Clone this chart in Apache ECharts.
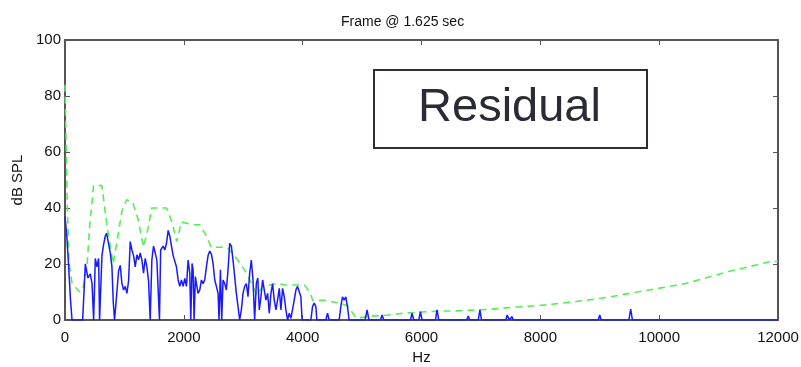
<!DOCTYPE html>
<html>
<head>
<meta charset="utf-8">
<script src="https://cdn.jsdelivr.net/npm/echarts@6/dist/echarts.min.js"></script>
<style>
html,body{margin:0;padding:0;background:#fff;}
#chart{width:801px;height:367px;}
</style>
</head>
<body>
<div id="chart"></div>
<script>
// ---- data ----
const chartTitle = 'Frame @ 1.625 sec';
const xName = 'Hz';
const yName = 'dB SPL';
const boxLabel = 'Residual';
const xTicks = [0, 2000, 4000, 6000, 8000, 10000, 12000];
const yTicks = [0, 20, 40, 60, 80, 100];

// residual spectrum (blue, solid)
const blueFreq = [0,30,62,90,118,297,342,386,426,455,482,510,538,566,582,622,650,678,700,735,762,790,812,834,858,902,930,958,986,1014,1042,1070,1098,1126,1154,1182,1210,1238,1266,1294,1322,1350,1378,1406,1434,1462,1490,1518,1546,1574,1590,1610,1652,1680,1708,1736,1764,1792,1820,1848,1876,1904,1932,1960,1988,2016,2044,2072,2100,2117,2139,2156,2173,2195,2212,2240,2268,2296,2324,2352,2380,2408,2436,2464,2492,2520,2548,2576,2593,2616,2638,2660,2688,2716,2744,2772,2800,2828,2856,2884,2912,2940,2968,2996,3024,3052,3080,3108,3136,3164,3192,3220,3245,3270,3298,3326,3354,3382,3410,3438,3466,3494,3522,3550,3578,3606,3634,3662,3690,3718,3746,3774,3802,3830,3858,3886,3914,3942,3970,3990,4138,4166,4194,4222,4239,4390,4418,4446,4614,4642,4670,4698,4726,4754,4782,5050,5085,5115,5310,5337,5365,5815,5841,5870,5955,5981,6010,6235,6261,6290,6760,6787,6810,6955,6983,7010,7420,7442,7480,7500,7521,7545,8430,8450,8470,8975,9000,9025,9490,9521,9550,12000];
const blueDb = [37,30,19,8,0,0,20,15,16.5,13,0,22,19,22,0,23,27,30,31,27,24,19,6.5,0,6,17.6,19.5,13,10.7,12,9.5,14,28,25,23,19,23.3,21.5,24,21.5,16.7,22,19,14,0,21.5,26.4,24,21.5,22,0,25,26.4,25,27.4,32,30,26.4,23,23.5,19,14.3,12,14.3,12,14.9,12,21.4,16.7,0,20.2,17.9,0,15.5,13,9.5,10.7,14.3,13,14.3,19,23,24.6,23.5,20.2,14.3,12,9.5,0,17.9,0,14.3,13,10.7,17.9,27.4,26.4,21.4,15.5,9.5,4.8,0,3.6,9.5,12,13,8.3,16.7,21.4,14.3,0,13,15,3.6,8.3,14.3,10.7,7.1,9.5,2.4,9.5,13,7.1,3.6,7.1,11.3,3.6,11.3,8.3,3.6,0,2.4,0.6,0,7.1,10.7,12,11.3,8.3,0,0,4.8,6,4.8,0,0,2.4,0,0,4.8,8.3,7.1,8.3,4.8,0,0,3.6,0,0,1.8,0,0,2.4,0,0,3,0,0,3.6,0,0,1.4,0,0,3.6,0,0,1.8,0,0,1.2,0,0,0.7,0,0,1.8,0,0,3.9,0,0];

// masking threshold (green, dashed)
const greenFreq = [0,40,70,120,250,300,370,420,460,480,620,640,680,720,810,890,960,1040,1140,1230,1320,1400,1460,1710,1800,1880,1960,2150,2270,2380,2460,2730,2890,3050,3230,3330,3580,3710,4030,4120,4170,4370,4640,4760,4900,5170,5440,5720,6300,6520,7140,7530,8110,8790,9190,9580,10440,11170,11840,12000];
const greenDb = [84,40,20,13,10,11,19,35,43,48,48,45,38,32,20,30,39,43,42,36,26,33,40,40,35,28,35,34,34,30,26,26,22,17,9,12,13,12.5,12.5,10,7,7,6,5,0.7,1.4,1.8,2.5,3.2,3.2,3.8,4.5,5.4,7.1,8.3,9.8,13,17.3,20.7,21];

// ---- chart ----
const pair = (xs, ys) => xs.map((x, i) => [x, ys[i]]);
const FONT = '"Liberation Sans", Arial, sans-serif';
const axisCol = '#555';
const plain = v => String(v);

const chart = echarts.init(document.getElementById('chart'), null, {renderer: 'canvas'});
const option = {
  animation: false,
  backgroundColor: '#fff',
  title: {
    text: chartTitle, left: 336, top: 10,
    textStyle: {fontFamily: FONT, fontSize: 14, fontWeight: 'normal', color: '#111'}
  },
  grid: {left: 65, right: 23, top: 40, bottom: 47, show: false, outerBoundsMode: 'none', containLabel: false},
  xAxis: [{
    type: 'value', min: xTicks[0], max: xTicks[xTicks.length - 1], interval: 2000,
    name: xName, nameLocation: 'middle', nameGap: 27,
    nameTextStyle: {fontFamily: FONT, fontSize: 15, color: '#111', verticalAlign: 'top'},
    axisLine: {onZero: false, lineStyle: {color: axisCol, width: 2}},
    axisTick: {inside: true, length: 5, lineStyle: {color: axisCol, width: 1}},
    axisLabel: {fontFamily: FONT, fontSize: 15, color: '#111', margin: 10, formatter: plain},
    splitLine: {show: false}
  }, {
    type: 'value', position: 'top', min: xTicks[0], max: xTicks[xTicks.length - 1], interval: 2000,
    axisLine: {show: true, onZero: false, lineStyle: {color: axisCol, width: 2}},
    axisTick: {show: true, inside: true, length: 5, lineStyle: {color: axisCol, width: 1}},
    axisLabel: {show: false}, splitLine: {show: false}
  }],
  yAxis: [{
    type: 'value', min: yTicks[0], max: yTicks[yTicks.length - 1], interval: 20,
    name: yName, nameLocation: 'middle', nameGap: 33, nameRotate: 90,
    nameTextStyle: {fontFamily: FONT, fontSize: 15, color: '#111'},
    axisLine: {show: true, onZero: false, lineStyle: {color: axisCol, width: 2}},
    axisTick: {show: true, inside: true, length: 5, lineStyle: {color: axisCol, width: 1}},
    axisLabel: {fontFamily: FONT, fontSize: 15, color: '#111', margin: 4, formatter: plain},
    splitLine: {show: false}
  }, {
    type: 'value', position: 'right', min: yTicks[0], max: yTicks[yTicks.length - 1], interval: 20,
    axisLine: {show: true, onZero: false, lineStyle: {color: axisCol, width: 2}},
    axisTick: {show: true, inside: true, length: 5, lineStyle: {color: axisCol, width: 1}},
    axisLabel: {show: false}, splitLine: {show: false}
  }],
  series: [{
    type: 'line', data: pair(greenFreq, greenDb), showSymbol: false, clip: true, z: 3,
    lineStyle: {color: '#55ee55', width: 1.6, type: [7, 5]}
  }, {
    type: 'line', data: pair(blueFreq, blueDb), showSymbol: false, clip: true, z: 4,
    lineStyle: {color: '#1a1aff', width: 1.5}
  }],
  graphic: [{
    type: 'rect', left: 373, top: 69, z: 10,
    shape: {width: 273, height: 78},
    style: {fill: '#fff', stroke: '#2e2e36', lineWidth: 2}
  }, {
    type: 'text', x: 509.5, y: 108, z: 11,
    style: {text: boxLabel, align: 'center', verticalAlign: 'middle', fill: '#2b2b35',
            font: '47px "Liberation Sans", Arial, sans-serif'}
  }]
};
chart.setOption(option);
</script>
</body>
</html>
